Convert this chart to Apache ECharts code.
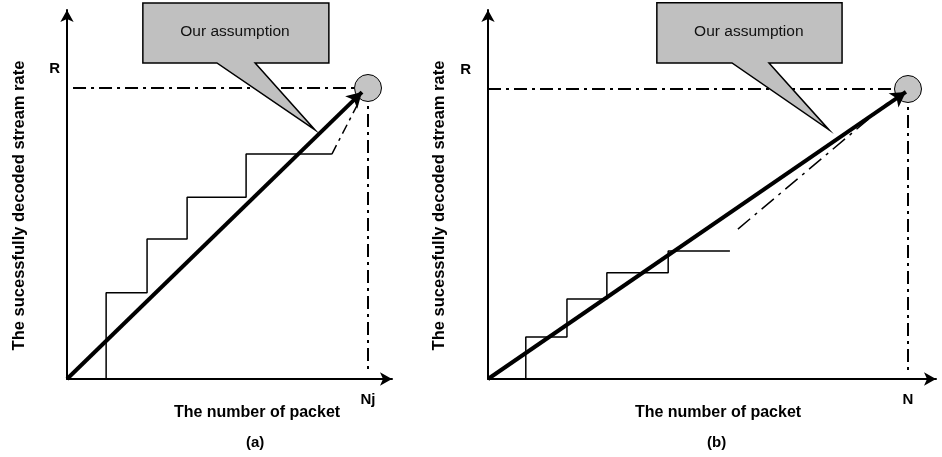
<!DOCTYPE html>
<html><head><meta charset="utf-8">
<script src="https://cdn.jsdelivr.net/npm/echarts@6/dist/echarts.min.js"></script>
<style>html,body{margin:0;padding:0;background:#fff}#c{width:942px;height:457px}</style>
</head><body><div id="c"></div>
<script>
// ---- data (panel a) ----
const stepXA = [1.30, 2.66, 3.99, 5.95, 8.80];
const stepYA = [2.96, 4.81, 6.25, 7.73];
const tailEndA = [9.73, 9.59];
const goalA = [10, 10];
const arrowEndA = [9.80, 9.86];
// ---- data (panel b) ----
const stepXB = [0.90, 1.88, 2.83, 4.29, 5.76];
const stepYB = [1.45, 2.76, 3.66, 4.41];
const tailStartB = [5.95, 5.17];
const tailEndB = [9.52, 9.52];
const goalB = [10, 10];
const arrowEndB = [9.95, 9.90];
// ---- text ----
const yTitle = 'The sucessfully decoded stream rate';
const xTitle = 'The number of packet';
const calloutText = 'Our assumption';
const xTickA = 'Nj', xTickB = 'N', yTick = 'R';

function steps(xs, ys) {
  const pts = [[xs[0], 0]];
  for (let i = 0; i < ys.length; i++) { pts.push([xs[i], ys[i]]); pts.push([xs[i + 1], ys[i]]); }
  return pts;
}

// annotation geometry (data units of each panel)
const calloutA = { poly: [[2.52,12.92],[8.70,12.92],[8.70,10.86],[6.25,10.86],[8.24,8.56],[4.98,10.86],[2.52,10.86]], text: [5.58, 11.92] };
const calloutB = { poly: [[4.02,12.97],[8.43,12.97],[8.43,10.90],[6.69,10.90],[8.12,8.59],[5.81,10.90],[4.02,10.90]], text: [6.21, 11.97] };

const FONT = 'Liberation Sans, Arial, sans-serif';
const DASHDOT = [13, 5, 3, 5];

function xAxis(gi, max, lab, pad) {
  return {
    type: 'value', gridIndex: gi, min: 0, max: max, interval: 10,
    axisLine: { lineStyle: { color: '#000', width: 2 }, symbol: ['none', 'arrow'], symbolSize: [10, 12] },
    axisTick: { show: false }, splitLine: { show: false },
    axisLabel: { margin: 13, formatter: v => v === 10 ? lab : '', color: '#000', fontWeight: 'bold', fontSize: 15, fontFamily: FONT },
    name: xTitle, nameLocation: 'middle', nameGap: 26, nameMoveOverlap: false,
    nameTextStyle: { color: '#000', fontWeight: 'bold', fontSize: 16, fontFamily: FONT, padding: [0, 0, 0, pad] }
  };
}
function yAxis(gi, max, margin, gap) {
  return {
    type: 'value', gridIndex: gi, min: 0, max: max, interval: 10,
    axisLine: { lineStyle: { color: '#000', width: 2 }, symbol: ['none', 'arrow'], symbolSize: [10, 12] },
    axisTick: { show: false }, splitLine: { show: false },
    axisLabel: { margin: margin, formatter: v => v === 10 ? yTick : '', color: '#000', fontWeight: 'bold', fontSize: 15, fontFamily: FONT, verticalAlign: 'bottom', padding: [0, 0, 12, 0] },
    name: yTitle, nameLocation: 'middle', nameGap: gap, nameMoveOverlap: false,
    nameTextStyle: { color: '#000', fontWeight: 'bold', fontSize: 16.5, fontFamily: FONT, padding: [0, 22, 0, 0] }
  };
}
function lineS(gi, data, style) {
  return { type: 'line', xAxisIndex: gi, yAxisIndex: gi, data: data, symbol: 'none', silent: true, lineStyle: style, z: 2 };
}
function callout(gi, c) {
  return {
    type: 'custom', xAxisIndex: gi, yAxisIndex: gi, data: [[0, 0]], clip: false, silent: true, z: 5,
    renderItem: (params, api) => {
      const pts = c.poly.map(p => api.coord(p));
      const t = api.coord(c.text);
      return { type: 'group', children: [
        { type: 'polygon', shape: { points: pts }, style: { fill: '#c0c0c0', stroke: '#000', lineWidth: 1.5 } },
        { type: 'text', style: { text: calloutText, x: t[0], y: t[1], align: 'center', verticalAlign: 'middle', font: '15.5px ' + FONT, fill: '#111' } }
      ] };
    }
  };
}
function goal(gi, g) {
  return { type: 'scatter', xAxisIndex: gi, yAxisIndex: gi, data: [g], symbol: 'circle', symbolSize: 27, silent: true, z: 3,
    itemStyle: { color: '#c4c4c4', borderColor: '#000', borderWidth: 1, opacity: 1 } };
}
function arrow(gi, end) {
  return { type: 'line', xAxisIndex: gi, yAxisIndex: gi, data: [], silent: true, z: 4,
    markLine: { silent: true, animation: false, symbol: ['none', 'arrow'], symbolSize: [13, 15], label: { show: false },
      lineStyle: { color: '#000', width: 4, type: 'solid' },
      data: [[{ coord: [0, 0] }, { coord: end }]] } };
}

const chart = echarts.init(document.getElementById('c'), null, { renderer: 'canvas' });
chart.setOption({
  animation: false,
  backgroundColor: '#fff',
  grid: [
    { left: 67, top: 10, width: 325, height: 369, outerBoundsMode: 'none' },
    { left: 488, top: 10, width: 448, height: 369, outerBoundsMode: 'none' }
  ],
  xAxis: [xAxis(0, 325 / 30.1, xTickA, 55), xAxis(1, 448 / 42, xTickB, 12)],
  yAxis: [yAxis(0, 369 / 29.1, 7, 39), yAxis(1, 369 / 29, 17, 40)],
  graphic: [
    { type: 'text', left: 257 - 11, top: 435, style: { text: '(a)', font: 'bold 15px ' + FONT, fill: '#000' } },
    { type: 'text', left: 718 - 11, top: 435, style: { text: '(b)', font: 'bold 15px ' + FONT, fill: '#000' } }
  ],
  series: [
    lineS(0, steps(stepXA, stepYA), { color: '#000', width: 1.5 }),
    lineS(0, [[stepXA[4], stepYA[3]], tailEndA], { color: '#000', width: 1.5, type: [10, 5, 3, 5] }),
    lineS(0, [[0.2, goalA[1]], goalA], { color: '#000', width: 2, type: DASHDOT }),
    lineS(0, [goalA, [goalA[0], 0.3]], { color: '#000', width: 2, type: DASHDOT }),
    goal(0, goalA),
    arrow(0, arrowEndA),
    callout(0, calloutA),
    lineS(1, steps(stepXB, stepYB), { color: '#000', width: 1.5 }),
    lineS(1, [tailStartB, tailEndB], { color: '#000', width: 1.5, type: [16, 6, 3, 6] }),
    lineS(1, [[0, goalB[1]], goalB], { color: '#000', width: 2, type: DASHDOT }),
    lineS(1, [goalB, [goalB[0], 0.24]], { color: '#000', width: 2, type: DASHDOT }),
    goal(1, goalB),
    arrow(1, arrowEndB),
    callout(1, calloutB)
  ]
});
</script>
</body></html>
